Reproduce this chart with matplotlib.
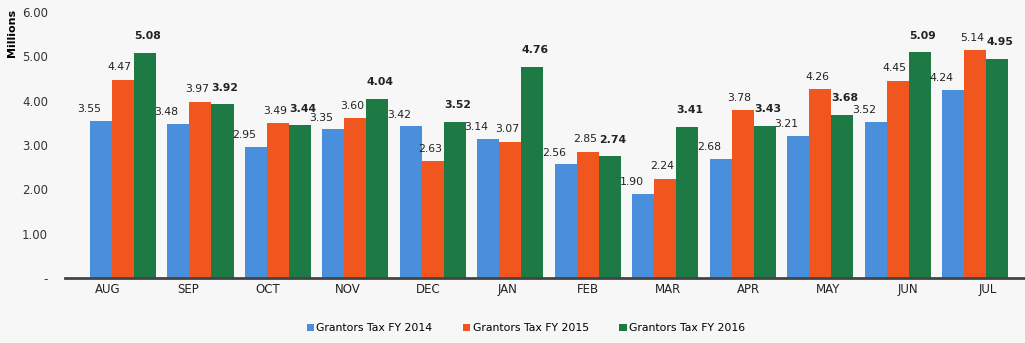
import numpy as np
import matplotlib.pyplot as plt

months = ["AUG", "SEP", "OCT", "NOV", "DEC", "JAN", "FEB", "MAR", "APR", "MAY", "JUN", "JUL"]
fy2014 = [3.55, 3.48, 2.95, 3.35, 3.42, 3.14, 2.56, 1.90, 2.68, 3.21, 3.52, 4.24]
fy2015 = [4.47, 3.97, 3.49, 3.60, 2.63, 3.07, 2.85, 2.24, 3.78, 4.26, 4.45, 5.14]
fy2016 = [5.08, 3.92, 3.44, 4.04, 3.52, 4.76, 2.74, 3.41, 3.43, 3.68, 5.09, 4.95]
series_names = ["Grantors Tax FY 2014", "Grantors Tax FY 2015", "Grantors Tax FY 2016"]
colors = ["#4a8fdc", "#f0561e", "#1e7a45"]

fig = plt.figure(figsize=(10.25, 3.43), dpi=100)
fig.patch.set_facecolor("#f7f7f7")
ax = fig.add_axes([0.063, 0.19, 0.937, 0.775])
ax.set_facecolor("#f7f7f7")

x = np.arange(len(months))
w = 0.275
# perspective of the original: groups drift from right of tick to left of tick
drift = np.linspace(0.19, -0.16, len(months))
label_dx = [-0.15, -0.04, 0.03]
label_dy = [0.15, 0.17, 0.26]
all_series = [fy2014, fy2015, fy2016]
for i, (vals, c, name) in enumerate(zip(all_series, colors, series_names)):
    pos = x + drift + (i - 1) * w
    ax.bar(pos, vals, width=w, color=c, label=name, edgecolor="none")
    for p, v in zip(pos, vals):
        ax.text(p + label_dx[i], v + label_dy[i], f"{v:.2f}", ha="center", va="bottom", fontsize=7.8,
                fontweight="bold" if i == 2 else "normal", color="#222222")

ax.set_ylim(0, 6)
ax.set_xlim(-0.54, 11.46)
ax.set_yticks(range(0, 7))
ax.set_yticklabels(["-"] + [f"{t:.2f}" for t in range(1, 7)], fontsize=8.5, color="#333333")
ax.set_xticks(x)
ax.set_xticklabels(months, fontsize=8.5, color="#222222")
ax.tick_params(length=0)
ax.tick_params(axis="y", pad=12)
ax.set_ylabel("Millions", fontsize=8, fontweight="bold", labelpad=2)
ax.yaxis.set_label_coords(-0.05, 0.92)
for s in ["top", "right", "left"]:
    ax.spines[s].set_visible(False)
ax.spines["bottom"].set_color("#444444")
ax.spines["bottom"].set_linewidth(2)

fig.legend(loc="lower center", ncol=3, frameon=False, fontsize=7.8,
           handlelength=0.7, handleheight=0.7, handletextpad=0.2, columnspacing=2.8,
           bbox_to_anchor=(0.513, 0.0))

fig.savefig("out.png", dpi=100, facecolor=fig.get_facecolor())
